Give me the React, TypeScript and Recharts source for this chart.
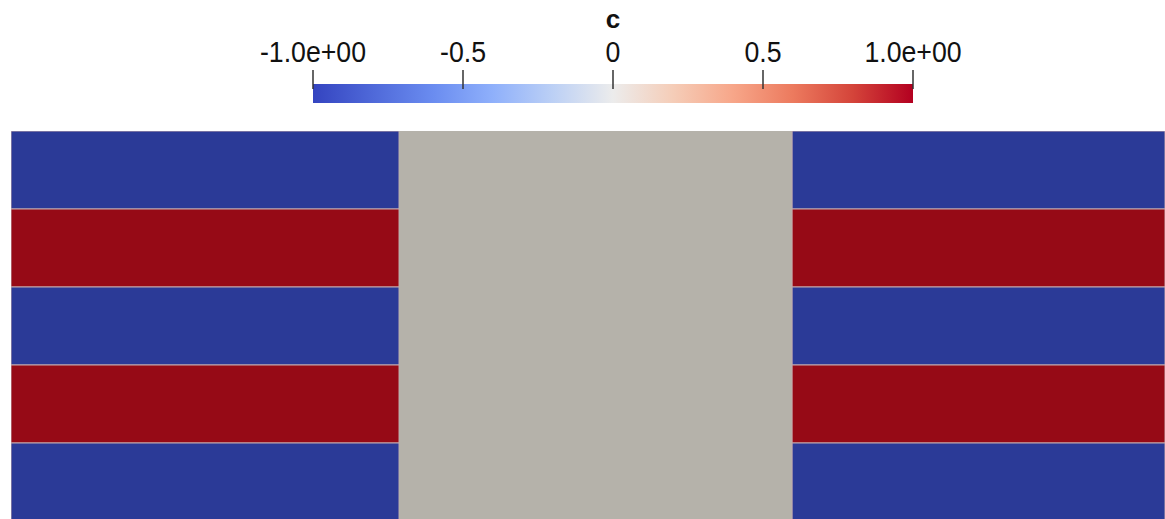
import React from 'react';
import { BarChart, Bar, XAxis, YAxis, Cell } from 'recharts';

// colour bar
const C_TICKS = [-1, -0.5, 0, 0.5, 1];
const C_TICK_LABELS = ['-1.0e+00', '-0.5', '0', '0.5', '1.0e+00'];
const C_RANGE: [number, number] = [-1, 1];
const COOLWARM: [number, string][] = [
  [-1, '#3444c0'],
  [-0.8, '#4f69d9'],
  [-0.6, '#6a8cf0'],
  [-0.4, '#8fb0fb'],
  [-0.2, '#bcd0f5'],
  [0, '#ececec'],
  [0.2, '#f5cdb8'],
  [0.4, '#f7a689'],
  [0.6, '#ec7a5e'],
  [0.8, '#d4443a'],
  [1, '#b30020'],
];

// field: five horizontal stripes, three blocks across
const ROWS = ['s1', 's2', 's3', 's4', 's5'];
const STRIPE_C = [-1, 1, -1, 1, -1];
const MID_C = [0, 0, 0, 0, 0];
const LEFT_W = [1, 1, 1, 1, 1];
const MID_W = [1.013, 1.013, 1.013, 1.013, 1.013];
const RIGHT_W = [1, 1, 1, 1, 1];
const X_VISIBLE = 2.974;

const fieldData = ROWS.map((name, i) => ({
  name,
  left: LEFT_W[i],
  mid: MID_W[i],
  right: RIGHT_W[i],
  cStripe: STRIPE_C[i],
  cMid: MID_C[i],
}));

const shaded = (c: number) => (c < 0 ? '#2b3a97' : c > 0 ? '#960a16' : '#b5b2aa');

const CTick = (props: any) => {
  const { x, y, index } = props;
  return (
    <g>
      <line x1={x} x2={x} y1={y - 14} y2={y + 5} stroke="#333" strokeWidth={1.5} />
      <text
        x={x}
        y={y - 22}
        textAnchor="middle"
        fontFamily="'Liberation Sans', sans-serif"
        fontSize={30}
        fill="#111"
        transform={`translate(${x},0) scale(0.89,1) translate(${-x},0)`}
      >
        {C_TICK_LABELS[index]}
      </text>
    </g>
  );
};

export default function App() {
  return (
    <div
      style={{
        position: 'absolute',
        left: 0,
        top: 0,
        width: 1165,
        height: 519,
        overflow: 'hidden',
        background: '#fff',
      }}
    >
      <div
        style={{
          position: 'absolute',
          top: 6,
          left: 613,
          transform: 'translateX(-50%)',
          font: "bold 26px 'Liberation Sans', sans-serif",
          lineHeight: '26px',
          color: '#111',
        }}
      >
        c
      </div>

      <div style={{ position: 'absolute', left: 0, top: 0 }}>
        <BarChart
          width={1165}
          height={110}
          layout="vertical"
          data={[{ name: 'c', range: C_RANGE }]}
          margin={{ top: 24, right: 252, bottom: 7, left: 313 }}
          barCategoryGap={0}
        >
          <defs>
            <linearGradient id="coolwarm" x1="0" y1="0" x2="1" y2="0">
              {COOLWARM.map(([v, col]) => (
                <stop key={v} offset={`${((v + 1) / 2) * 100}%`} stopColor={col} />
              ))}
            </linearGradient>
          </defs>
          <XAxis
            type="number"
            orientation="top"
            domain={C_RANGE}
            ticks={C_TICKS}
            height={60}
            axisLine={false}
            tickLine={false}
            tickSize={0}
            tickMargin={0}
            tick={<CTick />}
            interval={0}
          />
          <YAxis type="category" dataKey="name" hide />
          <Bar dataKey="range" fill="url(#coolwarm)" isAnimationActive={false} />
        </BarChart>
      </div>

      <div style={{ position: 'absolute', left: 0, top: 131 }}>
        <BarChart
          width={1165}
          height={390}
          layout="vertical"
          data={fieldData}
          margin={{ top: 0, right: 0, bottom: 0, left: 11 }}
          barCategoryGap={0}
          barGap={0}
        >
          <XAxis type="number" domain={[0, X_VISIBLE]} hide allowDataOverflow />
          <YAxis type="category" dataKey="name" hide />
          <Bar dataKey="left" stackId="f" isAnimationActive={false}>
            {fieldData.map((d) => (
              <Cell key={d.name} fill={shaded(d.cStripe)} stroke="#c4aaae" strokeWidth={1} />
            ))}
          </Bar>
          <Bar dataKey="mid" stackId="f" isAnimationActive={false}>
            {fieldData.map((d) => (
              <Cell key={d.name} fill={shaded(d.cMid)} />
            ))}
          </Bar>
          <Bar dataKey="right" stackId="f" isAnimationActive={false}>
            {fieldData.map((d) => (
              <Cell key={d.name} fill={shaded(d.cStripe)} stroke="#c4aaae" strokeWidth={1} />
            ))}
          </Bar>
        </BarChart>
      </div>
    </div>
  );
}
